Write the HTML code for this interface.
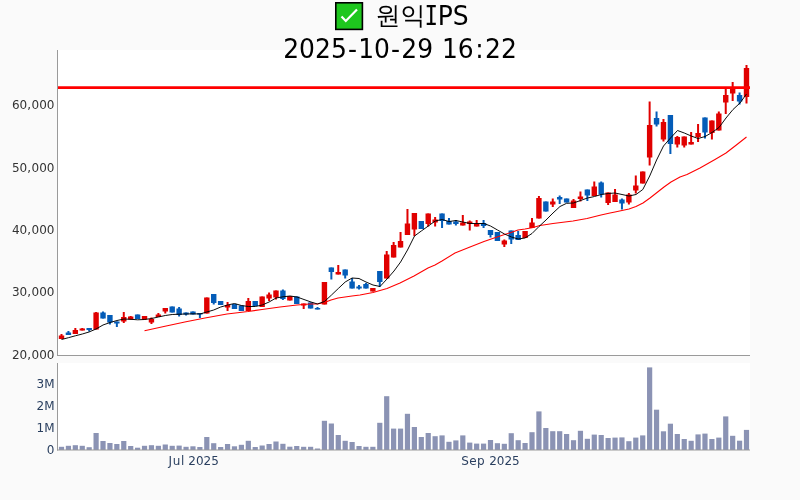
<!DOCTYPE html>
<html lang="ko"><head><meta charset="utf-8"><title>원익IPS</title>
<style>
html,body{margin:0;padding:0;background:#fafafa;}
body{width:800px;height:500px;overflow:hidden;}
svg{display:block;}
text{font-family:"DejaVu Sans","Liberation Sans","Noto Sans CJK KR","NanumGothic",sans-serif;}
.yt{font-size:12px;fill:#333;text-anchor:end;}
.vt{font-size:12px;fill:#2a3f5f;text-anchor:end;}
.xt{font-size:12px;fill:#2a3f5f;text-anchor:middle;}
.tt{font-size:25px;fill:#000;}
.ko{font-family:"WenQuanYi Zen Hei","Noto Sans CJK KR","NanumGothic",sans-serif;}
.mono{font-family:"DejaVu Sans Mono","Liberation Mono",monospace;}
</style></head><body>
<svg width="800" height="500" viewBox="0 0 800 500">
<rect x="0" y="0" width="800" height="500" fill="#fafafa"/>
<rect x="57" y="50" width="693" height="305" fill="#ffffff"/>
<rect x="57" y="363" width="693" height="87" fill="#ffffff"/>
<defs><clipPath id="cp"><rect x="57" y="50" width="693" height="305"/></clipPath>
<clipPath id="cv"><rect x="57" y="363" width="693" height="87"/></clipPath></defs>

<g clip-path="url(#cv)" fill="#8b93b4">
<rect x="58.90" y="446.8" width="5.2" height="3.2"/>
<rect x="65.82" y="445.8" width="5.2" height="4.2"/>
<rect x="72.74" y="445.2" width="5.2" height="4.8"/>
<rect x="79.66" y="445.8" width="5.2" height="4.2"/>
<rect x="86.58" y="447.2" width="5.2" height="2.8"/>
<rect x="93.50" y="433.0" width="5.2" height="17.0"/>
<rect x="100.42" y="441.0" width="5.2" height="9.0"/>
<rect x="107.33" y="443.0" width="5.2" height="7.0"/>
<rect x="114.25" y="444.0" width="5.2" height="6.0"/>
<rect x="121.17" y="441.0" width="5.2" height="9.0"/>
<rect x="128.09" y="446.0" width="5.2" height="4.0"/>
<rect x="135.01" y="447.7" width="5.2" height="2.3"/>
<rect x="141.93" y="445.8" width="5.2" height="4.2"/>
<rect x="148.85" y="445.2" width="5.2" height="4.8"/>
<rect x="155.77" y="445.8" width="5.2" height="4.2"/>
<rect x="162.69" y="444.5" width="5.2" height="5.5"/>
<rect x="169.61" y="445.8" width="5.2" height="4.2"/>
<rect x="176.53" y="445.6" width="5.2" height="4.4"/>
<rect x="183.45" y="446.8" width="5.2" height="3.2"/>
<rect x="190.36" y="446.3" width="5.2" height="3.7"/>
<rect x="197.28" y="447.0" width="5.2" height="3.0"/>
<rect x="204.20" y="437.0" width="5.2" height="13.0"/>
<rect x="211.12" y="443.2" width="5.2" height="6.8"/>
<rect x="218.04" y="447.0" width="5.2" height="3.0"/>
<rect x="224.96" y="444.0" width="5.2" height="6.0"/>
<rect x="231.88" y="446.3" width="5.2" height="3.7"/>
<rect x="238.80" y="444.8" width="5.2" height="5.2"/>
<rect x="245.72" y="440.8" width="5.2" height="9.2"/>
<rect x="252.64" y="447.0" width="5.2" height="3.0"/>
<rect x="259.56" y="445.5" width="5.2" height="4.5"/>
<rect x="266.48" y="444.0" width="5.2" height="6.0"/>
<rect x="273.39" y="441.5" width="5.2" height="8.5"/>
<rect x="280.31" y="443.8" width="5.2" height="6.2"/>
<rect x="287.23" y="446.7" width="5.2" height="3.3"/>
<rect x="294.15" y="446.0" width="5.2" height="4.0"/>
<rect x="301.07" y="446.8" width="5.2" height="3.2"/>
<rect x="307.99" y="446.8" width="5.2" height="3.2"/>
<rect x="314.91" y="448.5" width="5.2" height="1.5"/>
<rect x="321.83" y="420.8" width="5.2" height="29.2"/>
<rect x="328.75" y="423.5" width="5.2" height="26.5"/>
<rect x="335.67" y="435.0" width="5.2" height="15.0"/>
<rect x="342.59" y="440.8" width="5.2" height="9.2"/>
<rect x="349.51" y="442.0" width="5.2" height="8.0"/>
<rect x="356.43" y="446.0" width="5.2" height="4.0"/>
<rect x="363.34" y="446.8" width="5.2" height="3.2"/>
<rect x="370.26" y="446.8" width="5.2" height="3.2"/>
<rect x="377.18" y="422.8" width="5.2" height="27.2"/>
<rect x="384.10" y="396.2" width="5.2" height="53.8"/>
<rect x="391.02" y="428.6" width="5.2" height="21.4"/>
<rect x="397.94" y="428.6" width="5.2" height="21.4"/>
<rect x="404.86" y="413.8" width="5.2" height="36.2"/>
<rect x="411.78" y="427.0" width="5.2" height="23.0"/>
<rect x="418.70" y="437.0" width="5.2" height="13.0"/>
<rect x="425.62" y="433.0" width="5.2" height="17.0"/>
<rect x="432.54" y="436.2" width="5.2" height="13.8"/>
<rect x="439.46" y="435.4" width="5.2" height="14.6"/>
<rect x="446.37" y="441.8" width="5.2" height="8.2"/>
<rect x="453.29" y="440.4" width="5.2" height="9.6"/>
<rect x="460.21" y="435.4" width="5.2" height="14.6"/>
<rect x="467.13" y="442.6" width="5.2" height="7.4"/>
<rect x="474.05" y="443.6" width="5.2" height="6.4"/>
<rect x="480.97" y="443.6" width="5.2" height="6.4"/>
<rect x="487.89" y="440.0" width="5.2" height="10.0"/>
<rect x="494.81" y="443.2" width="5.2" height="6.8"/>
<rect x="501.73" y="443.8" width="5.2" height="6.2"/>
<rect x="508.65" y="433.2" width="5.2" height="16.8"/>
<rect x="515.57" y="440.2" width="5.2" height="9.8"/>
<rect x="522.49" y="443.0" width="5.2" height="7.0"/>
<rect x="529.41" y="432.2" width="5.2" height="17.8"/>
<rect x="536.32" y="411.4" width="5.2" height="38.6"/>
<rect x="543.24" y="428.0" width="5.2" height="22.0"/>
<rect x="550.16" y="431.2" width="5.2" height="18.8"/>
<rect x="557.08" y="431.2" width="5.2" height="18.8"/>
<rect x="564.00" y="434.0" width="5.2" height="16.0"/>
<rect x="570.92" y="440.2" width="5.2" height="9.8"/>
<rect x="577.84" y="430.8" width="5.2" height="19.2"/>
<rect x="584.76" y="438.8" width="5.2" height="11.2"/>
<rect x="591.68" y="434.6" width="5.2" height="15.4"/>
<rect x="598.60" y="435.0" width="5.2" height="15.0"/>
<rect x="605.52" y="438.0" width="5.2" height="12.0"/>
<rect x="612.44" y="437.6" width="5.2" height="12.4"/>
<rect x="619.35" y="437.4" width="5.2" height="12.6"/>
<rect x="626.27" y="441.2" width="5.2" height="8.8"/>
<rect x="633.19" y="437.6" width="5.2" height="12.4"/>
<rect x="640.11" y="435.4" width="5.2" height="14.6"/>
<rect x="647.03" y="367.4" width="5.2" height="82.6"/>
<rect x="653.95" y="409.7" width="5.2" height="40.3"/>
<rect x="660.87" y="431.3" width="5.2" height="18.7"/>
<rect x="667.79" y="423.7" width="5.2" height="26.3"/>
<rect x="674.71" y="434.0" width="5.2" height="16.0"/>
<rect x="681.63" y="439.0" width="5.2" height="11.0"/>
<rect x="688.55" y="440.8" width="5.2" height="9.2"/>
<rect x="695.47" y="434.4" width="5.2" height="15.6"/>
<rect x="702.38" y="433.6" width="5.2" height="16.4"/>
<rect x="709.30" y="439.0" width="5.2" height="11.0"/>
<rect x="716.22" y="437.6" width="5.2" height="12.4"/>
<rect x="723.14" y="416.4" width="5.2" height="33.6"/>
<rect x="730.06" y="435.8" width="5.2" height="14.2"/>
<rect x="736.98" y="440.7" width="5.2" height="9.3"/>
<rect x="743.90" y="429.9" width="5.2" height="20.1"/>
</g>
<g clip-path="url(#cp)">
<rect x="60.50" y="334.0" width="2.0" height="5.0" fill="#e00000"/>
<rect x="58.80" y="335.5" width="5.4" height="3.5" fill="#e00000"/>
<rect x="67.42" y="331.0" width="2.0" height="4.0" fill="#045cb8"/>
<rect x="65.72" y="332.5" width="5.4" height="2.5" fill="#045cb8"/>
<rect x="74.34" y="328.0" width="2.0" height="6.0" fill="#e00000"/>
<rect x="72.64" y="330.0" width="5.4" height="4.0" fill="#e00000"/>
<rect x="81.26" y="328.0" width="2.0" height="2.5" fill="#e00000"/>
<rect x="79.56" y="328.5" width="5.4" height="2.0" fill="#e00000"/>
<rect x="88.18" y="328.0" width="2.0" height="3.5" fill="#045cb8"/>
<rect x="86.48" y="328.0" width="5.4" height="2.0" fill="#045cb8"/>
<rect x="95.10" y="312.0" width="2.0" height="17.5" fill="#e00000"/>
<rect x="93.40" y="312.5" width="5.4" height="17.0" fill="#e00000"/>
<rect x="102.02" y="311.5" width="2.0" height="7.0" fill="#045cb8"/>
<rect x="100.32" y="312.5" width="5.4" height="6.0" fill="#045cb8"/>
<rect x="108.93" y="315.0" width="2.0" height="9.5" fill="#045cb8"/>
<rect x="107.23" y="315.0" width="5.4" height="7.5" fill="#045cb8"/>
<rect x="115.85" y="321.5" width="2.0" height="5.5" fill="#045cb8"/>
<rect x="114.15" y="321.5" width="5.4" height="2.0" fill="#045cb8"/>
<rect x="122.77" y="312.0" width="2.0" height="11.0" fill="#e00000"/>
<rect x="121.07" y="317.0" width="5.4" height="4.5" fill="#e00000"/>
<rect x="129.69" y="316.0" width="2.0" height="3.5" fill="#e00000"/>
<rect x="127.99" y="316.5" width="5.4" height="3.0" fill="#e00000"/>
<rect x="136.61" y="314.5" width="2.0" height="4.5" fill="#045cb8"/>
<rect x="134.91" y="314.5" width="5.4" height="4.5" fill="#045cb8"/>
<rect x="143.53" y="316.0" width="2.0" height="4.0" fill="#e00000"/>
<rect x="141.83" y="316.0" width="5.4" height="3.5" fill="#e00000"/>
<rect x="150.45" y="317.5" width="2.0" height="6.5" fill="#e00000"/>
<rect x="148.75" y="319.0" width="5.4" height="3.5" fill="#e00000"/>
<rect x="157.37" y="313.0" width="2.0" height="4.0" fill="#e00000"/>
<rect x="155.67" y="314.5" width="5.4" height="2.5" fill="#e00000"/>
<rect x="164.29" y="308.0" width="2.0" height="5.5" fill="#e00000"/>
<rect x="162.59" y="308.0" width="5.4" height="3.5" fill="#e00000"/>
<rect x="171.21" y="306.5" width="2.0" height="6.0" fill="#045cb8"/>
<rect x="169.51" y="306.5" width="5.4" height="6.0" fill="#045cb8"/>
<rect x="178.13" y="307.0" width="2.0" height="9.5" fill="#045cb8"/>
<rect x="176.43" y="308.5" width="5.4" height="6.5" fill="#045cb8"/>
<rect x="185.05" y="312.5" width="2.0" height="3.0" fill="#045cb8"/>
<rect x="183.35" y="312.5" width="5.4" height="2.0" fill="#045cb8"/>
<rect x="191.96" y="311.5" width="2.0" height="3.0" fill="#045cb8"/>
<rect x="190.26" y="311.5" width="5.4" height="3.0" fill="#045cb8"/>
<rect x="198.88" y="313.0" width="2.0" height="5.0" fill="#045cb8"/>
<rect x="197.18" y="313.0" width="5.4" height="1.5" fill="#045cb8"/>
<rect x="205.80" y="297.5" width="2.0" height="16.0" fill="#e00000"/>
<rect x="204.10" y="297.5" width="5.4" height="16.0" fill="#e00000"/>
<rect x="212.72" y="294.0" width="2.0" height="10.5" fill="#045cb8"/>
<rect x="211.02" y="294.0" width="5.4" height="9.0" fill="#045cb8"/>
<rect x="219.64" y="301.0" width="2.0" height="4.0" fill="#045cb8"/>
<rect x="217.94" y="301.0" width="5.4" height="4.0" fill="#045cb8"/>
<rect x="226.56" y="302.0" width="2.0" height="9.0" fill="#e00000"/>
<rect x="224.86" y="305.0" width="5.4" height="2.5" fill="#e00000"/>
<rect x="233.48" y="304.0" width="2.0" height="5.0" fill="#045cb8"/>
<rect x="231.78" y="304.0" width="5.4" height="5.0" fill="#045cb8"/>
<rect x="240.40" y="305.5" width="2.0" height="5.5" fill="#045cb8"/>
<rect x="238.70" y="305.5" width="5.4" height="5.5" fill="#045cb8"/>
<rect x="247.32" y="298.0" width="2.0" height="13.0" fill="#e00000"/>
<rect x="245.62" y="301.0" width="5.4" height="10.0" fill="#e00000"/>
<rect x="254.24" y="301.0" width="2.0" height="5.0" fill="#045cb8"/>
<rect x="252.54" y="301.0" width="5.4" height="5.0" fill="#045cb8"/>
<rect x="261.16" y="296.5" width="2.0" height="10.5" fill="#e00000"/>
<rect x="259.46" y="296.5" width="5.4" height="10.5" fill="#e00000"/>
<rect x="268.08" y="292.5" width="2.0" height="8.5" fill="#e00000"/>
<rect x="266.38" y="294.5" width="5.4" height="4.0" fill="#e00000"/>
<rect x="274.99" y="290.5" width="2.0" height="9.0" fill="#e00000"/>
<rect x="273.29" y="290.5" width="5.4" height="7.0" fill="#e00000"/>
<rect x="281.91" y="289.5" width="2.0" height="10.5" fill="#045cb8"/>
<rect x="280.21" y="290.5" width="5.4" height="8.5" fill="#045cb8"/>
<rect x="288.83" y="296.0" width="2.0" height="4.5" fill="#e00000"/>
<rect x="287.13" y="296.0" width="5.4" height="4.5" fill="#e00000"/>
<rect x="295.75" y="296.5" width="2.0" height="7.5" fill="#045cb8"/>
<rect x="294.05" y="296.5" width="5.4" height="7.5" fill="#045cb8"/>
<rect x="302.67" y="303.5" width="2.0" height="5.5" fill="#e00000"/>
<rect x="300.97" y="303.5" width="5.4" height="2.0" fill="#e00000"/>
<rect x="309.59" y="302.5" width="2.0" height="6.0" fill="#045cb8"/>
<rect x="307.89" y="302.5" width="5.4" height="6.0" fill="#045cb8"/>
<rect x="316.51" y="307.0" width="2.0" height="2.5" fill="#045cb8"/>
<rect x="314.81" y="308.0" width="5.4" height="1.5" fill="#045cb8"/>
<rect x="323.43" y="282.0" width="2.0" height="22.5" fill="#e00000"/>
<rect x="321.73" y="282.0" width="5.4" height="22.5" fill="#e00000"/>
<rect x="330.35" y="267.5" width="2.0" height="12.0" fill="#045cb8"/>
<rect x="328.65" y="267.5" width="5.4" height="4.5" fill="#045cb8"/>
<rect x="337.27" y="265.0" width="2.0" height="9.5" fill="#e00000"/>
<rect x="335.57" y="272.0" width="5.4" height="2.5" fill="#e00000"/>
<rect x="344.19" y="269.5" width="2.0" height="9.0" fill="#045cb8"/>
<rect x="342.49" y="269.5" width="5.4" height="6.0" fill="#045cb8"/>
<rect x="351.11" y="278.0" width="2.0" height="10.5" fill="#045cb8"/>
<rect x="349.41" y="281.5" width="5.4" height="7.0" fill="#045cb8"/>
<rect x="358.03" y="285.0" width="2.0" height="4.5" fill="#045cb8"/>
<rect x="356.33" y="286.5" width="5.4" height="2.0" fill="#045cb8"/>
<rect x="364.94" y="283.0" width="2.0" height="5.5" fill="#045cb8"/>
<rect x="363.24" y="284.0" width="5.4" height="4.5" fill="#045cb8"/>
<rect x="371.86" y="288.0" width="2.0" height="3.5" fill="#e00000"/>
<rect x="370.16" y="288.0" width="5.4" height="3.5" fill="#e00000"/>
<rect x="378.78" y="271.0" width="2.0" height="16.0" fill="#045cb8"/>
<rect x="377.08" y="271.0" width="5.4" height="11.0" fill="#045cb8"/>
<rect x="385.70" y="251.0" width="2.0" height="27.5" fill="#e00000"/>
<rect x="384.00" y="254.5" width="5.4" height="24.0" fill="#e00000"/>
<rect x="392.62" y="242.0" width="2.0" height="15.5" fill="#e00000"/>
<rect x="390.92" y="245.0" width="5.4" height="12.5" fill="#e00000"/>
<rect x="399.54" y="232.0" width="2.0" height="15.5" fill="#e00000"/>
<rect x="397.84" y="241.0" width="5.4" height="6.5" fill="#e00000"/>
<rect x="406.46" y="209.0" width="2.0" height="26.0" fill="#e00000"/>
<rect x="404.76" y="223.5" width="5.4" height="11.5" fill="#e00000"/>
<rect x="413.38" y="213.0" width="2.0" height="23.0" fill="#e00000"/>
<rect x="411.68" y="213.0" width="5.4" height="16.5" fill="#e00000"/>
<rect x="420.30" y="221.0" width="2.0" height="8.0" fill="#045cb8"/>
<rect x="418.60" y="221.0" width="5.4" height="8.0" fill="#045cb8"/>
<rect x="427.22" y="213.5" width="2.0" height="13.0" fill="#e00000"/>
<rect x="425.52" y="213.5" width="5.4" height="10.5" fill="#e00000"/>
<rect x="434.14" y="217.0" width="2.0" height="9.5" fill="#e00000"/>
<rect x="432.44" y="219.5" width="5.4" height="3.0" fill="#e00000"/>
<rect x="441.06" y="213.5" width="2.0" height="14.5" fill="#045cb8"/>
<rect x="439.36" y="213.5" width="5.4" height="7.5" fill="#045cb8"/>
<rect x="447.97" y="218.0" width="2.0" height="6.5" fill="#045cb8"/>
<rect x="446.27" y="221.0" width="5.4" height="3.5" fill="#045cb8"/>
<rect x="454.89" y="220.0" width="2.0" height="5.5" fill="#045cb8"/>
<rect x="453.19" y="221.5" width="5.4" height="2.5" fill="#045cb8"/>
<rect x="461.81" y="215.0" width="2.0" height="10.5" fill="#e00000"/>
<rect x="460.11" y="222.5" width="5.4" height="3.0" fill="#e00000"/>
<rect x="468.73" y="220.5" width="2.0" height="10.0" fill="#e00000"/>
<rect x="467.03" y="221.5" width="5.4" height="2.5" fill="#e00000"/>
<rect x="475.65" y="220.0" width="2.0" height="6.5" fill="#e00000"/>
<rect x="473.95" y="224.0" width="5.4" height="2.5" fill="#e00000"/>
<rect x="482.57" y="220.0" width="2.0" height="8.0" fill="#045cb8"/>
<rect x="480.87" y="223.0" width="5.4" height="3.0" fill="#045cb8"/>
<rect x="489.49" y="230.0" width="2.0" height="7.5" fill="#045cb8"/>
<rect x="487.79" y="230.0" width="5.4" height="5.0" fill="#045cb8"/>
<rect x="496.41" y="232.0" width="2.0" height="9.0" fill="#045cb8"/>
<rect x="494.71" y="232.0" width="5.4" height="9.0" fill="#045cb8"/>
<rect x="503.33" y="239.5" width="2.0" height="7.5" fill="#e00000"/>
<rect x="501.63" y="240.5" width="5.4" height="4.0" fill="#e00000"/>
<rect x="510.25" y="230.5" width="2.0" height="13.5" fill="#045cb8"/>
<rect x="508.55" y="230.5" width="5.4" height="9.0" fill="#045cb8"/>
<rect x="517.17" y="231.0" width="2.0" height="9.0" fill="#045cb8"/>
<rect x="515.47" y="235.0" width="5.4" height="5.0" fill="#045cb8"/>
<rect x="524.09" y="231.0" width="2.0" height="7.0" fill="#e00000"/>
<rect x="522.39" y="231.0" width="5.4" height="7.0" fill="#e00000"/>
<rect x="531.01" y="218.0" width="2.0" height="10.0" fill="#e00000"/>
<rect x="529.31" y="222.5" width="5.4" height="5.5" fill="#e00000"/>
<rect x="537.92" y="196.0" width="2.0" height="22.5" fill="#e00000"/>
<rect x="536.22" y="198.0" width="5.4" height="20.5" fill="#e00000"/>
<rect x="544.84" y="201.5" width="2.0" height="10.0" fill="#045cb8"/>
<rect x="543.14" y="201.5" width="5.4" height="10.0" fill="#045cb8"/>
<rect x="551.76" y="198.5" width="2.0" height="8.5" fill="#e00000"/>
<rect x="550.06" y="201.5" width="5.4" height="3.0" fill="#e00000"/>
<rect x="558.68" y="195.5" width="2.0" height="8.5" fill="#045cb8"/>
<rect x="556.98" y="197.0" width="5.4" height="2.5" fill="#045cb8"/>
<rect x="565.60" y="198.5" width="2.0" height="4.0" fill="#045cb8"/>
<rect x="563.90" y="198.5" width="5.4" height="4.0" fill="#045cb8"/>
<rect x="572.52" y="199.0" width="2.0" height="9.0" fill="#e00000"/>
<rect x="570.82" y="200.5" width="5.4" height="7.5" fill="#e00000"/>
<rect x="579.44" y="191.5" width="2.0" height="10.0" fill="#e00000"/>
<rect x="577.74" y="196.5" width="5.4" height="2.5" fill="#e00000"/>
<rect x="586.36" y="189.5" width="2.0" height="11.5" fill="#045cb8"/>
<rect x="584.66" y="189.5" width="5.4" height="6.0" fill="#045cb8"/>
<rect x="593.28" y="181.5" width="2.0" height="14.5" fill="#e00000"/>
<rect x="591.58" y="186.5" width="5.4" height="9.5" fill="#e00000"/>
<rect x="600.20" y="181.5" width="2.0" height="16.0" fill="#045cb8"/>
<rect x="598.50" y="182.5" width="5.4" height="12.0" fill="#045cb8"/>
<rect x="607.12" y="192.5" width="2.0" height="12.5" fill="#e00000"/>
<rect x="605.42" y="192.5" width="5.4" height="10.5" fill="#e00000"/>
<rect x="614.04" y="189.0" width="2.0" height="13.0" fill="#e00000"/>
<rect x="612.34" y="194.5" width="5.4" height="7.5" fill="#e00000"/>
<rect x="620.95" y="198.5" width="2.0" height="11.0" fill="#045cb8"/>
<rect x="619.25" y="199.5" width="5.4" height="4.0" fill="#045cb8"/>
<rect x="627.87" y="193.0" width="2.0" height="11.5" fill="#e00000"/>
<rect x="626.17" y="194.5" width="5.4" height="8.0" fill="#e00000"/>
<rect x="634.79" y="175.5" width="2.0" height="18.0" fill="#e00000"/>
<rect x="633.09" y="185.5" width="5.4" height="5.0" fill="#e00000"/>
<rect x="641.71" y="171.5" width="2.0" height="12.0" fill="#e00000"/>
<rect x="640.01" y="171.5" width="5.4" height="12.0" fill="#e00000"/>
<rect x="648.63" y="101.5" width="2.0" height="64.0" fill="#e00000"/>
<rect x="646.93" y="125.0" width="5.4" height="32.5" fill="#e00000"/>
<rect x="655.55" y="111.5" width="2.0" height="15.0" fill="#045cb8"/>
<rect x="653.85" y="118.0" width="5.4" height="6.5" fill="#045cb8"/>
<rect x="662.47" y="119.0" width="2.0" height="22.5" fill="#e00000"/>
<rect x="660.77" y="122.0" width="5.4" height="17.5" fill="#e00000"/>
<rect x="669.39" y="115.0" width="2.0" height="39.0" fill="#045cb8"/>
<rect x="667.69" y="115.0" width="5.4" height="29.0" fill="#045cb8"/>
<rect x="676.31" y="136.0" width="2.0" height="11.5" fill="#e00000"/>
<rect x="674.61" y="137.0" width="5.4" height="7.5" fill="#e00000"/>
<rect x="683.23" y="136.5" width="2.0" height="11.0" fill="#e00000"/>
<rect x="681.53" y="136.5" width="5.4" height="9.0" fill="#e00000"/>
<rect x="690.15" y="132.0" width="2.0" height="12.5" fill="#e00000"/>
<rect x="688.45" y="142.0" width="5.4" height="2.5" fill="#e00000"/>
<rect x="697.07" y="124.0" width="2.0" height="18.0" fill="#e00000"/>
<rect x="695.37" y="133.0" width="5.4" height="4.0" fill="#e00000"/>
<rect x="703.98" y="117.5" width="2.0" height="21.0" fill="#045cb8"/>
<rect x="702.28" y="117.5" width="5.4" height="15.0" fill="#045cb8"/>
<rect x="710.90" y="120.5" width="2.0" height="19.0" fill="#e00000"/>
<rect x="709.20" y="120.5" width="5.4" height="12.5" fill="#e00000"/>
<rect x="717.82" y="111.5" width="2.0" height="19.0" fill="#e00000"/>
<rect x="716.12" y="113.5" width="5.4" height="17.0" fill="#e00000"/>
<rect x="724.74" y="87.5" width="2.0" height="26.5" fill="#e00000"/>
<rect x="723.04" y="95.0" width="5.4" height="7.5" fill="#e00000"/>
<rect x="731.66" y="82.0" width="2.0" height="19.0" fill="#e00000"/>
<rect x="729.96" y="87.0" width="5.4" height="6.5" fill="#e00000"/>
<rect x="738.58" y="92.5" width="2.0" height="12.0" fill="#045cb8"/>
<rect x="736.88" y="95.0" width="5.4" height="6.5" fill="#045cb8"/>
<rect x="745.50" y="65.0" width="2.0" height="38.5" fill="#e00000"/>
<rect x="743.80" y="68.0" width="5.4" height="29.0" fill="#e00000"/>
<polyline fill="none" stroke="#ff0000" stroke-width="1.05" stroke-linejoin="round" points="144.5,330.7 165.0,326.3 186.0,321.7 205.0,318.0 227.0,314.0 248.0,311.5 262.0,309.5 280.0,307.0 297.0,305.0 310.0,304.0 317.0,304.0 324.5,302.5 331.0,300.0 338.0,298.0 345.0,297.0 352.0,296.0 360.0,295.0 373.0,292.5 387.0,288.5 400.0,283.0 414.0,276.0 428.0,268.0 435.0,265.0 442.0,261.0 455.0,253.0 470.0,247.0 484.0,241.5 497.0,237.0 511.0,232.5 518.0,230.0 525.0,229.0 532.0,227.8 540.0,225.5 553.0,223.5 573.0,221.0 587.0,218.5 601.0,215.0 610.0,213.0 615.0,212.0 622.0,210.5 629.0,209.0 636.0,206.5 643.0,203.0 650.0,198.0 657.0,192.5 664.0,187.0 671.0,182.0 680.0,177.0 687.0,174.5 700.0,168.0 715.0,159.5 726.0,153.0 737.0,144.5 746.5,137.0"/>
<polyline fill="none" stroke="#000000" stroke-width="0.95" stroke-linejoin="round" points="61.5,339.5 68.4,337.7 75.3,335.8 82.3,334.0 89.0,332.0 96.0,329.0 103.0,325.0 110.0,322.5 117.0,320.5 124.0,319.0 131.0,319.3 137.6,319.8 144.5,319.5 151.5,318.5 158.4,317.0 165.3,315.5 172.2,314.5 179.1,314.2 186.1,314.0 193.0,313.8 200.0,314.0 206.8,312.0 213.7,310.0 220.7,307.0 227.6,305.0 234.5,303.5 241.4,305.5 248.3,306.5 255.3,306.5 262.2,305.0 269.1,302.0 276.0,298.0 283.0,296.8 290.0,296.0 297.0,297.0 304.0,299.5 311.0,302.0 317.5,304.0 324.5,301.5 331.5,295.0 338.3,288.5 345.2,282.0 352.1,278.0 359.0,278.5 366.0,282.0 373.0,285.0 380.0,286.5 387.0,279.0 394.0,271.0 400.6,262.0 407.5,250.0 414.5,236.0 421.3,231.0 428.3,226.0 435.2,221.0 442.1,219.5 449.0,221.5 456.0,220.5 462.8,222.0 470.0,223.5 477.0,223.5 484.0,223.5 490.5,226.0 497.5,230.0 504.5,234.0 511.5,237.0 518.2,239.0 525.0,238.0 532.0,233.5 539.0,226.5 546.0,220.0 553.0,213.0 560.0,206.5 566.6,203.3 573.5,203.0 580.5,200.5 587.5,198.0 594.5,196.5 601.2,194.5 608.2,193.5 615.0,193.0 622.0,194.5 629.0,196.0 636.0,194.5 642.8,189.5 649.7,176.0 656.6,160.0 663.5,146.0 670.5,138.0 677.5,130.5 684.3,133.0 691.2,136.0 698.1,138.5 705.1,136.5 712.0,132.5 719.0,127.5 726.0,118.0 733.0,109.5 740.0,103.0 746.5,94.0"/>
<line x1="57" y1="87.55" x2="750" y2="87.55" stroke="#ff0000" stroke-width="2.7"/>
</g>
<rect x="57" y="50" width="1" height="306" fill="#9a9a9a"/>
<rect x="57" y="355" width="693" height="1" fill="#9a9a9a"/>
<rect x="57" y="363" width="1" height="87.5" fill="#9a9a9a"/>
<rect x="57" y="449.5" width="693" height="1" fill="#9a9a9a"/>
<text class="yt" x="54.5" y="109.0">60<tspan letter-spacing="0.6">,</tspan>000</text>
<text class="yt" x="54.5" y="172.0">50<tspan letter-spacing="0.6">,</tspan>000</text>
<text class="yt" x="54.5" y="234.0">40<tspan letter-spacing="0.6">,</tspan>000</text>
<text class="yt" x="54.5" y="296.0">30<tspan letter-spacing="0.6">,</tspan>000</text>
<text class="yt" x="54.5" y="359.0">20<tspan letter-spacing="0.6">,</tspan>000</text>
<text class="vt" x="54.5" y="388.0">3M</text>
<text class="vt" x="54.5" y="410.0">2M</text>
<text class="vt" x="54.5" y="432.0">1M</text>
<text class="vt" x="54.5" y="454.0">0</text>
<text class="xt" y="465" style="text-anchor:start"><tspan x="168.4" letter-spacing="0.7">Jul </tspan><tspan x="188.3">2025</tspan></text>
<text class="xt" y="465" style="text-anchor:start"><tspan x="461.3" letter-spacing="0.4">Sep </tspan><tspan x="489.2">2025</tspan></text>
<rect x="335.8" y="2.8" width="26.6" height="26.6" fill="#1ec71e" stroke="#000" stroke-width="1.6"/>
<path d="M341.5 16.5 L345.8 21 L357 9.5" fill="none" stroke="#fff" stroke-width="2.2" stroke-linecap="butt" stroke-linejoin="miter"/>
<text class="tt ko" x="375.5" y="23.7">원익</text><text class="tt" transform="translate(0,24.6) scale(1,1.04)"><tspan x="437.8" y="0">P</tspan><tspan x="452.7">S</tspan></text>
<text class="tt mono" transform="translate(431.25,24.6) scale(0.9,1.04)" text-anchor="middle">I</text>
<text class="tt" transform="translate(0,57.8) scale(1,1.045)" y="0"><tspan x="283.2">2025</tspan><tspan x="347.96">-</tspan><tspan x="358.15">10</tspan><tspan x="391.1">-</tspan><tspan x="401.3">29</tspan><tspan x="441.9">16</tspan><tspan x="475.2">:</tspan><tspan x="485.05">22</tspan></text>
</svg></body></html>
